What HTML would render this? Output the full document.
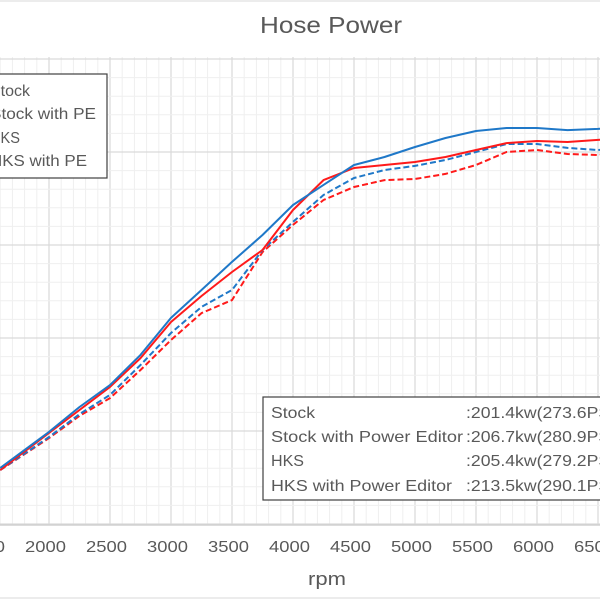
<!DOCTYPE html>
<html><head><meta charset="utf-8"><style>
html,body{margin:0;padding:0;background:#fff;}
svg{display:block;font-family:"Liberation Sans","Noto Sans CJK JP",sans-serif;}
</style></head><body>
<svg id="chart" width="600" height="600" viewBox="0 0 600 600">
<rect x="0" y="0" width="600" height="600" fill="#fff"/>
<line x1="0" y1="1" x2="600" y2="1" stroke="#d9d9d9"/>
<line x1="0" y1="598" x2="600" y2="598" stroke="#d9d9d9"/>
<text x="260" y="33" font-size="23" fill="#595959" textLength="142" lengthAdjust="spacingAndGlyphs">Hose Power</text>
<text x="308" y="585" font-size="18" fill="#595959" textLength="38" lengthAdjust="spacingAndGlyphs">rpm</text>
<g id="grid"></g>
<g id="ticks"></g>
<g id="series"></g>
<g font-size="16" fill="#595959">
<rect x="-5" y="74" width="112" height="104" fill="#fff" stroke="#404040" stroke-width="1.2"/>
<text x="-10" y="96" textLength="40" lengthAdjust="spacingAndGlyphs">Stock</text>
<text x="-10" y="119" textLength="106" lengthAdjust="spacingAndGlyphs">Stock with PE</text>
<text x="-10" y="143" textLength="30" lengthAdjust="spacingAndGlyphs">HKS</text>
<text x="-10" y="166" textLength="97" lengthAdjust="spacingAndGlyphs">HKS with PE</text>
</g>
<g font-size="16" fill="#595959">
<rect x="263" y="397" width="345" height="103" fill="#fff" stroke="#404040" stroke-width="1.2"/>
<text x="271" y="418" textLength="44" lengthAdjust="spacingAndGlyphs">Stock</text><text x="466" y="418" textLength="150" lengthAdjust="spacingAndGlyphs">:201.4kw(273.6PS)</text>
<text x="271" y="442" textLength="192" lengthAdjust="spacingAndGlyphs">Stock with Power Editor</text><text x="466" y="442" textLength="150" lengthAdjust="spacingAndGlyphs">:206.7kw(280.9PS)</text>
<text x="271" y="466" textLength="33" lengthAdjust="spacingAndGlyphs">HKS</text><text x="466" y="466" textLength="150" lengthAdjust="spacingAndGlyphs">:205.4kw(279.2PS)</text>
<text x="271" y="491" textLength="181" lengthAdjust="spacingAndGlyphs">HKS with Power Editor</text><text x="466" y="491" textLength="150" lengthAdjust="spacingAndGlyphs">:213.5kw(290.1PS)</text>
</g>
</svg>
<script>
const rpm = [1600,2000,2250,2500,2750,3000,3250,3500,3750,4000,4250,4500,4750,5000,5250,5500,5750,6000,6250,6500,6600];
const hksPE = [30.1,49.5,62.9,74.7,90.9,110.8,125.8,140.9,155.4,171.5,182.3,193,197.3,202.7,207.5,211.3,212.9,212.9,211.8,212.4,212.9];
const stockPE = [29.0,48.9,61.3,73.7,89.2,108.6,122.6,135.5,147.3,168.8,184.9,191.4,193,194.6,197.3,201.1,204.8,205.9,205.4,206.5,207];
const hks = [29,46.8,59.1,69.4,85.5,102.7,116.7,125.8,147.3,162.4,176.9,186,190.3,192.5,195.7,200,204.3,204.3,202.2,201.1,201.6];
const stock = [29,46.2,58.1,67.7,82.8,98.9,113.4,120.4,146.2,160.8,174.2,181.2,184.9,185.5,188.2,193,200,201.1,198.9,198.4,199.5];
const xTicks = [1500,2000,2500,3000,3500,4000,4500,5000,5500,6000,6500];

const NS='http://www.w3.org/2000/svg';
const X = r => 49 + (r-2000)*0.122;
const Y = v => 524 - v*1.86;
const grid=document.getElementById('grid'), ticks=document.getElementById('ticks'), series=document.getElementById('series');
function mk(tag, attrs, parent){const e=document.createElementNS(NS,tag);for(const k in attrs)e.setAttribute(k,attrs[k]);parent.appendChild(e);return e;}
for(let r=1100;r<=6700;r+=100){
  const x=X(r); if(x<0||x>600) continue;
  const major = r%500===0;
  const l=mk('line',{x1:x,y1:57,x2:x,y2:525,stroke:major?'#d9d9d9':'#efefef','stroke-width':major?1.2:1},grid);
  
  
}
for(let v=-10;v<=250;v+=10){
  const y=Y(v); if(y<57||y>525) continue;
  const major = v%50===0;
  const l=mk('line',{x1:0,y1:y,x2:600,y2:y,stroke:major?'#d9d9d9':'#efefef','stroke-width':major?1.2:1},grid);
  
  
}
const ax=mk('line',{x1:0,y1:525,x2:600,y2:525,stroke:'#d0d0d0','stroke-width':1.5},grid);


xTicks.forEach(r=>{
  const t=mk('text',{x:X(r)-24,y:552,'font-size':16,fill:'#595959',textLength:41,lengthAdjust:'spacingAndGlyphs'},ticks);
  t.textContent=r;
  
  
});
function line(vals,color,dash,name){
  const d=vals.map((v,i)=>(i?'L':'M')+X(rpm[i]).toFixed(1)+','+Y(v).toFixed(1)).join(' ');
  const p=mk('path',{d:d,fill:'none',stroke:color,'stroke-width':2,'stroke-linejoin':'round'},series);
  if(dash) p.setAttribute('stroke-dasharray','6,3');
  
  
}
line(stock,'#ff1a1a',true,'stock-line');
line(hks,'#1f78c8',true,'hks-line');
line(stockPE,'#ff1a1a',false,'stock-pe-line');
line(hksPE,'#1f78c8',false,'hks-pe-line');
</script>
</body></html>
